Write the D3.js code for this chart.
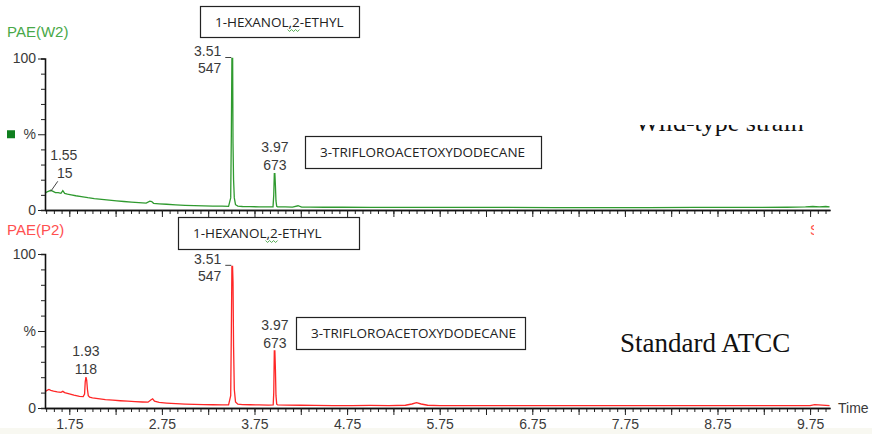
<!DOCTYPE html>
<html>
<head>
<meta charset="utf-8">
<script src="https://cdn.jsdelivr.net/npm/d3@7"></script>
<style>
  body { margin: 0; background: #fff; }
  svg { display: block; }
</style>
</head>
<body>
<svg width="872" height="434"></svg>
<script>
// PAE(W2) - wild type strain, retention time (min) vs relative abundance (%)
var wildTime = [1.49,1.51,1.53,1.55,1.57,1.60,1.63,1.66,1.68,1.70,1.73,1.77,1.82,1.88,1.95,2.02,2.10,2.18,2.26,2.34,2.42,2.50,2.58,2.62,2.64,2.66,2.72,2.80,2.90,3.00,3.10,3.20,3.30,3.40,3.47,3.493,3.50,3.506,3.514,3.518,3.524,3.532,3.545,3.57,3.62,3.70,3.80,3.90,3.950,3.958,3.964,3.970,3.976,3.982,3.990,4.00,4.08,4.16,4.22,4.26,4.35,4.50,4.70,5.00,5.50,6.00,6.50,7.00,7.50,8.00,8.50,9.00,9.50,9.70,9.78,9.85,9.92,9.96];
var wildPct  = [11,12,12.5,13,12.5,11.5,11.5,11,12.8,11,10.5,10,9.4,8.8,8.1,7.5,7,6.5,6,5.6,5.2,4.9,4.6,5.8,5.6,4.4,4.1,3.8,3.4,3.1,2.9,2.7,2.6,2.5,2.4,8,50,100,100,44,20,8,3.5,2.6,2.3,2.2,2.1,2.0,2.1,10,24,24,16,6,2.4,2.1,2.0,1.9,2.8,1.9,1.9,1.8,1.8,1.7,1.7,1.7,1.7,1.6,1.6,1.6,1.7,1.7,1.8,2.0,2.3,2.1,2.3,2.0];

// PAE(P2) - standard ATCC strain
var atccTime = [1.49,1.51,1.53,1.55,1.58,1.62,1.66,1.68,1.70,1.75,1.80,1.86,1.90,1.915,1.922,1.930,1.938,1.946,1.955,1.97,2.00,2.06,2.14,2.22,2.30,2.38,2.46,2.54,2.60,2.63,2.65,2.67,2.72,2.80,2.90,3.00,3.10,3.20,3.30,3.40,3.47,3.493,3.50,3.506,3.513,3.518,3.524,3.532,3.545,3.57,3.62,3.70,3.80,3.90,3.952,3.958,3.964,3.970,3.976,3.982,3.990,4.00,4.10,4.25,4.40,4.60,4.80,5.00,5.20,5.38,5.45,5.50,5.55,5.62,5.75,6.00,6.50,7.00,7.50,8.00,8.50,9.00,9.50,9.75,9.80,9.96];
var atccPct  = [10.5,11.5,12,11.5,11,10.5,10.2,10.8,10,9.2,8.4,7.6,7.4,9,17,20,18,12,8,7,6.6,6.1,5.5,5.1,4.7,4.4,4.1,3.9,3.8,5.2,6,4.4,3.6,3.2,2.8,2.5,2.3,2.2,2.1,2.0,2.0,8,50,92,92,82,40,12,4,2.5,2.2,2.1,2.0,1.9,2.0,10,37,37,25,8,2.5,2.0,1.9,1.8,1.7,1.6,1.6,1.7,1.6,1.8,2.6,3.5,2.6,1.8,1.6,1.5,1.5,1.5,1.5,1.5,1.5,1.5,1.5,1.5,2.2,1.5];

// labelled peaks: retention time, apex (%), area
var wildPeakTime = [1.55, 3.51, 3.97];
var wildPeakPct  = [13, 100, 24];
var wildPeakArea = ["15", "547", "673"];
var atccPeakTime = [1.93, 3.51, 3.97];
var atccPeakPct  = [20, 92, 37];
var atccPeakArea = ["118", "547", "673"];

var timeLabels = [1.75, 2.75, 3.75, 4.75, 5.75, 6.75, 7.75, 8.75, 9.75];
var compounds = ["1-HEXANOL,2-ETHYL", "3-TRIFLOROACETOXYDODECANE"];
var traceNames = ["PAE(W2)", "PAE(P2)"];
var strainNames = ["Wild-type strain", "Standard ATCC"];

var svg = d3.select("svg");
var sans = "'Liberation Sans', Arial, sans-serif";
var serif = "'Liberation Serif', 'Times New Roman', serif";

// pale strip along the bottom edge
svg.append("rect").attr("x", 0).attr("y", 428).attr("width", 872).attr("height", 6).attr("fill", "#f8f8f1");

var x = d3.scaleLinear().domain([1.4876, 9.965]).range([45, 830]);
var majorT = d3.range(1.75, 9.8, 0.5);
var minorT = d3.range(0, 102).map(function(i) { return 1.5 + i / 12; }).filter(function(t) { return t < 9.96; });

var panels = [
  { name: traceNames[0], color: "#2f9a2f", labelColor: "#48a848", time: wildTime, pct: wildPct,
    pTime: wildPeakTime, pPct: wildPeakPct, pArea: wildPeakArea, y0: 210, y100: 58.5, nameY: 37, showX: false },
  { name: traceNames[1], color: "#ff2626", labelColor: "#ff5050", time: atccTime, pct: atccPct,
    pTime: atccPeakTime, pPct: atccPeakPct, pArea: atccPeakArea, y0: 408, y100: 254, nameY: 235, showX: true }
];

panels.forEach(function(p, pi) {
  var y = d3.scaleLinear().domain([0, 100]).range([p.y0, p.y100]);
  var g = svg.append("g");

  g.append("text").attr("x", 7).attr("y", p.nameY).text(p.name)
    .attr("font-family", sans).attr("font-size", 15).attr("fill", p.labelColor);

  // trace
  var line = d3.line().x(function(d) { return x(d[0]); }).y(function(d) { return y(d[1]); });
  g.append("path").datum(d3.zip(p.time, p.pct)).attr("d", line)
    .attr("fill", "none").attr("stroke", p.color).attr("stroke-width", 1.3);

  // x axis
  var xMinor = g.append("g").attr("transform", "translate(0," + p.y0 + ")")
    .call(d3.axisBottom(x).tickValues(minorT).tickSize(4).tickSizeOuter(0).tickFormat(""));
  var xMajor = g.append("g").attr("transform", "translate(0," + p.y0 + ")")
    .call(d3.axisBottom(x).tickValues(majorT).tickSize(7).tickSizeOuter(0).tickPadding(4)
      .tickFormat(function(d) { return p.showX && timeLabels.indexOf(+d.toFixed(2)) >= 0 ? d.toFixed(2) : ""; }));
  [xMinor, xMajor].forEach(function(a) {
    a.select(".domain").attr("stroke", "#111").attr("stroke-width", 1.6);
    a.selectAll(".tick line").attr("stroke", "#222");
    a.selectAll("text").attr("font-family", sans).attr("font-size", 14).attr("fill", "#3a3a3a");
  });

  // y axis
  var yAx = g.append("g").attr("transform", "translate(45,0)")
    .call(d3.axisLeft(y).tickValues(d3.range(0, 101, 10)).tickSizeOuter(0).tickPadding(4)
      .tickSize(4)
      .tickFormat(function(d) { return d === 100 ? "100" : d === 50 ? "%" : d === 0 ? "0" : ""; }));
  yAx.selectAll(".tick line").attr("stroke", "#222")
    .attr("x2", function(d) { return d % 50 === 0 ? -7 : -4; });
  yAx.selectAll(".tick text").attr("x", function(d) { return d % 50 === 0 ? -9 : -7; })
    .attr("font-family", sans).attr("font-size", 14).attr("fill", "#3a3a3a");
  yAx.select(".domain").attr("stroke", "#111").attr("stroke-width", 1.6);

  if (pi === 0) {
    g.append("rect").attr("x", 7).attr("y", y(50) - 4).attr("width", 8).attr("height", 8).attr("fill", "#0f7f1f");
  }

  // peak annotations
  p.pTime.forEach(function(t, i) {
    var px = x(t), py = y(p.pPct[i]);
    var lab = g.append("g").attr("font-family", sans).attr("font-size", 14).attr("fill", "#3a3a3a");
    if (p.pPct[i] >= 90) {
      lab.append("text").attr("x", px - 11).attr("y", py - 2.5).attr("text-anchor", "end").text(t.toFixed(2));
      lab.append("text").attr("x", px - 11).attr("y", py + 14.5).attr("text-anchor", "end").text(p.pArea[i]);
      g.append("line").attr("x1", px - 7).attr("x2", px - 1).attr("y1", py - 1).attr("y2", py - 1)
        .attr("stroke", "#444").attr("stroke-width", 1);
    } else if (t < 1.7) {
      lab.append("text").attr("x", px + 13).attr("y", py - 30).attr("text-anchor", "middle").text(t.toFixed(2));
      lab.append("text").attr("x", px + 14).attr("y", py - 12).attr("text-anchor", "middle").text(p.pArea[i]);
      g.append("line").attr("x1", px + 7).attr("y1", py - 9).attr("x2", px).attr("y2", py + 1)
        .attr("stroke", "#444").attr("stroke-width", 1);
    } else {
      lab.append("text").attr("x", px).attr("y", py - 21.5).attr("text-anchor", "middle").text(t.toFixed(2));
      lab.append("text").attr("x", px).attr("y", py - 3.5).attr("text-anchor", "middle").text(p.pArea[i]);
    }
  });
});

// compound boxes
var boxes = [
  { text: compounds[0], x: 200, y: 6, w: 159, h: 31 },
  { text: compounds[1], x: 305, y: 136, w: 236, h: 32 },
  { text: compounds[0], x: 178, y: 217, w: 181, h: 32 },
  { text: compounds[1], x: 296, y: 317, w: 229, h: 32 }
];
boxes.forEach(function(b) {
  svg.append("rect").attr("x", b.x + 0.5).attr("y", b.y + 0.5).attr("width", b.w).attr("height", b.h)
    .attr("fill", "#fff").attr("stroke", "#222").attr("stroke-width", 1.2);
  var tx = b.x + 15, ty = b.y + 20.5;
  var t = svg.append("text").attr("x", tx).attr("y", ty).text(b.text)
    .attr("font-family", "'Open Sans', sans-serif").attr("font-size", 13.5).attr("fill", "#222");
  if (b.text.indexOf(",") >= 0) {
    // spell-check squiggle under ",2"
    var pre = t.node().getSubStringLength(0, b.text.indexOf(","));
    var sx = tx + pre - 1, sy = ty + 3;
    var d = "M" + sx + "," + sy;
    for (var k = 1; k <= 6; k++) d += "L" + (sx + k * 2) + "," + (sy + (k % 2 ? 2 : 0));
    svg.append("path").attr("d", d).attr("fill", "none").attr("stroke", "#3fa03f").attr("stroke-width", 0.9);
  }
});

// strain captions (upper one is half hidden in the original)
svg.append("text").attr("x", 635).attr("y", 131).text(strainNames[0])
  .attr("font-family", serif).attr("font-size", 26).attr("fill", "#111");
svg.append("rect").attr("x", 600).attr("y", 96).attr("width", 230).attr("height", 29).attr("fill", "#fff");
svg.append("text").attr("x", 620).attr("y", 352).text(strainNames[1])
  .attr("font-family", serif).attr("font-size", 27).attr("fill", "#111");

// clipped scan label and time title
svg.append("clipPath").attr("id", "sclip").append("rect").attr("x", 805).attr("y", 215).attr("width", 9).attr("height", 25);
svg.append("text").attr("x", 810).attr("y", 235).text("S").attr("clip-path", "url(#sclip)")
  .attr("font-family", sans).attr("font-size", 14).attr("fill", "#ff5050");
svg.append("text").attr("x", 838).attr("y", 413).text("Time")
  .attr("font-family", sans).attr("font-size", 14).attr("fill", "#3a3a3a");
</script>
</body>
</html>
